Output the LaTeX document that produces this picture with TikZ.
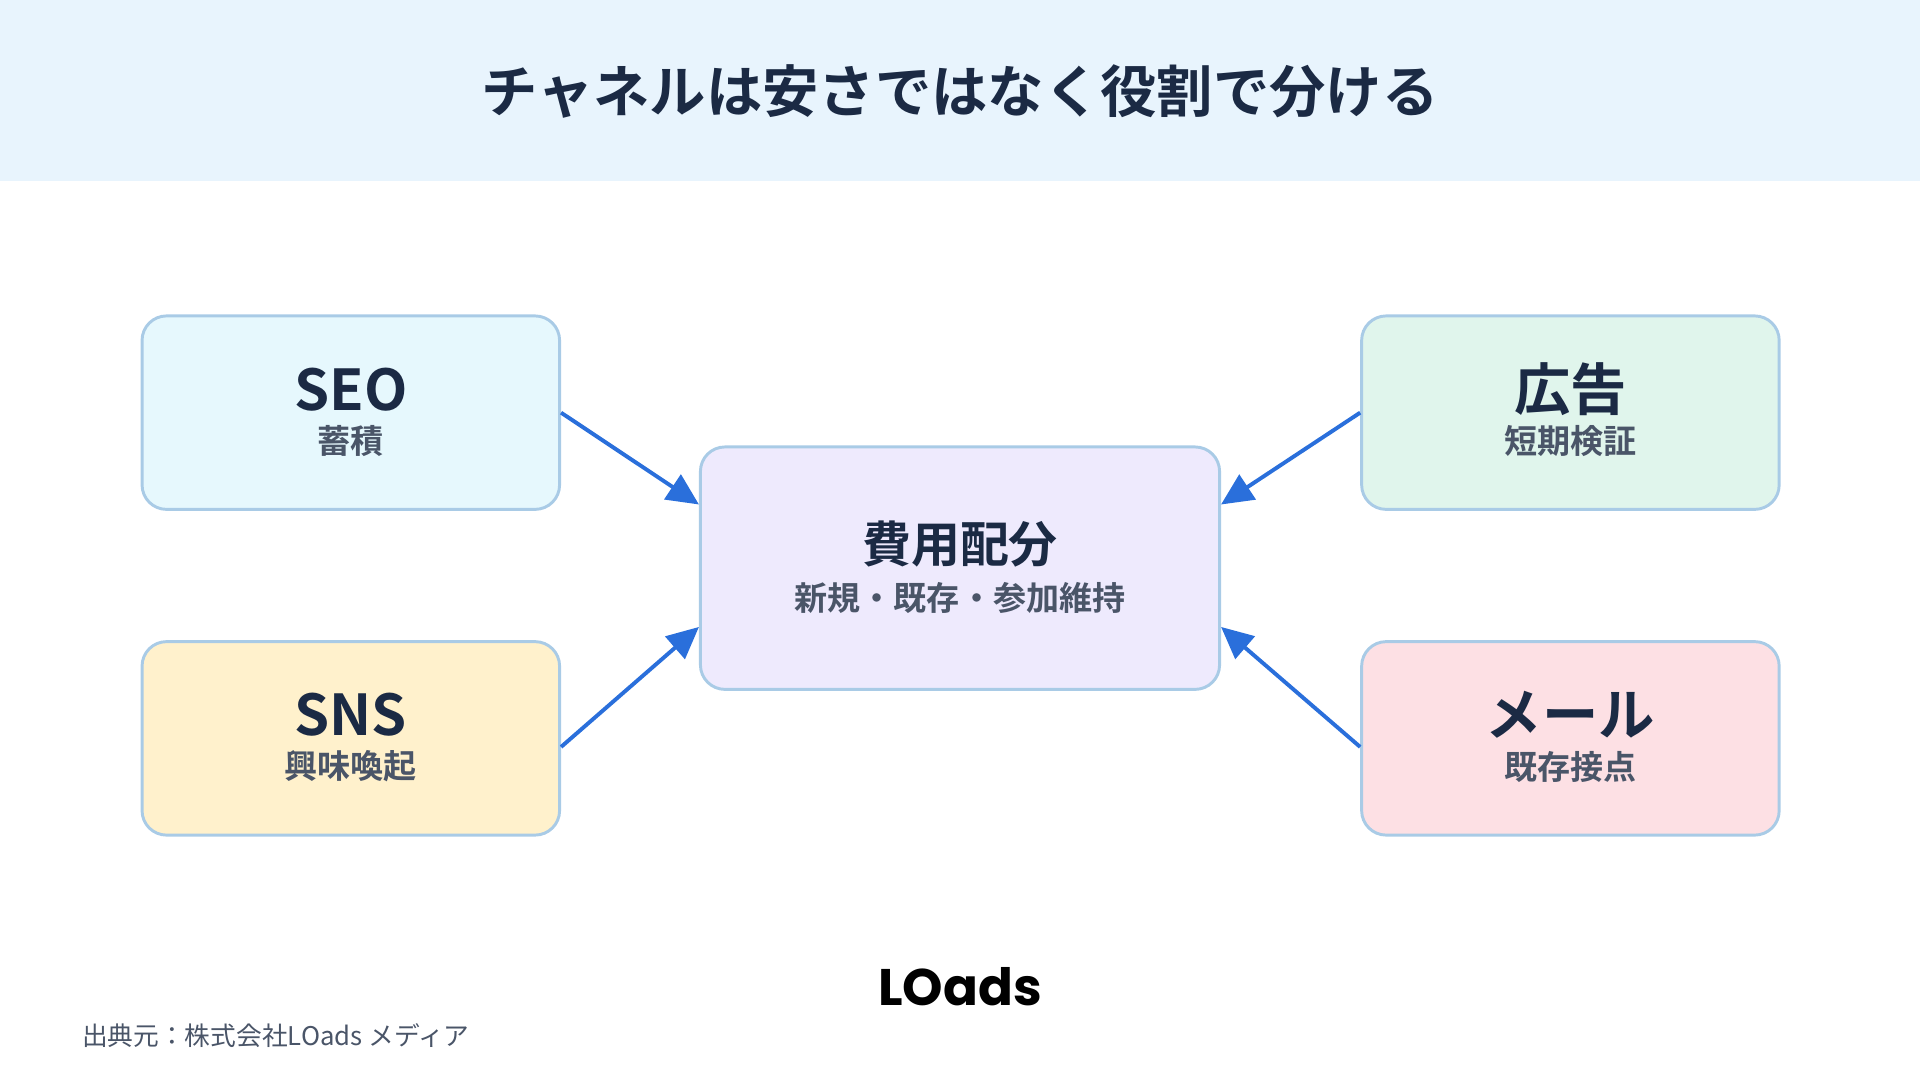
\documentclass[tikz,border=0pt]{standalone}
\usepackage{fontspec}
\setmainfont{Noto Sans CJK JP}
\newfontfamily\jpb{Noto Sans CJK JP Bold}
\newfontfamily\logof{Poppins}[UprightFont=* Bold]
\usetikzlibrary{calc,arrows.meta}
\definecolor{navy}{HTML}{1B2A44}
\definecolor{subg}{HTML}{4A5568}
\definecolor{bord}{HTML}{A9CBE6}
\definecolor{arr}{HTML}{2A6FDB}
\definecolor{hdr}{HTML}{E8F4FD}
\definecolor{cseo}{HTML}{E6F8FD}
\definecolor{cad}{HTML}{E0F5EC}
\definecolor{csns}{HTML}{FFF1CC}
\definecolor{cmail}{HTML}{FDE0E4}
\definecolor{cctr}{HTML}{EEEAFD}
\begin{document}
\begin{tikzpicture}[x=0.5pt,y=-0.5pt,
 box/.style={draw=bord,line width=1.2pt,rounded corners=10pt,minimum width=170.5pt,minimum height=79pt,inner sep=0pt},
 ttl/.style={font=\fontsize{23}{26}\jpb,text=navy},
 sub/.style={font=\fontsize{13.5}{16}\jpb,text=subg},
 ar/.style={draw=arr,line width=1.6pt,-{Triangle[length=13pt,width=12pt]}}]
\useasboundingbox (0,0) rectangle (1568,882);
\fill[hdr] (0,0) rectangle (1568,148);
\node[font=\fontsize{23}{26}\jpb,text=navy] (title) at (784,75) {チャネルは安さではなく役割で分ける};
\node[box,fill=cseo] (seo) at (286.5,337) {};
\node[box,fill=cad] (ad) at (1282.5,337) {};
\node[box,fill=csns] (sns) at (286.5,603) {};
\node[box,fill=cmail] (mail) at (1282.5,603) {};
\node[box,fill=cctr,minimum width=212pt,minimum height=99pt] (ctr) at (784,464) {};
\node[ttl] (t1) at (286.5,318) {SEO};
\node[sub] (s1) at (286.5,360) {蓄積};
\node[ttl] (t2) at (1282.5,318) {広告};
\node[sub] (s2) at (1282.5,360) {短期検証};
\node[ttl] (t3) at (286.5,584) {SNS};
\node[sub] (s3) at (286.5,626) {興味喚起};
\node[ttl] (t4) at (1282.5,584) {メール};
\node[sub] (s4) at (1282.5,626) {既存接点};
\node[font=\fontsize{20}{24}\jpb,text=navy] (tc) at (784,444) {費用配分};
\node[sub] (sc) at (784,488) {新規・既存・参加維持};
\draw[ar] (seo.east) -- ($(ctr.west)+(0,-52)$);
\draw[ar] ($(sns.east)+(0,7)$) -- ($(ctr.west)+(0,48)$);
\draw[ar] (ad.west) -- ($(ctr.east)+(0,-52)$);
\draw[ar] ($(mail.west)+(0,7)$) -- ($(ctr.east)+(0,48)$);
\node[font=\fontsize{21}{24}\logof,text=black] (logo) at (784,806) {LOads};
\node[anchor=west,font=\fontsize{10.5}{12}\selectfont,text=subg] (src) at (60,846) {出典元：株式会社LOads メディア};
\end{tikzpicture}
\end{document}
